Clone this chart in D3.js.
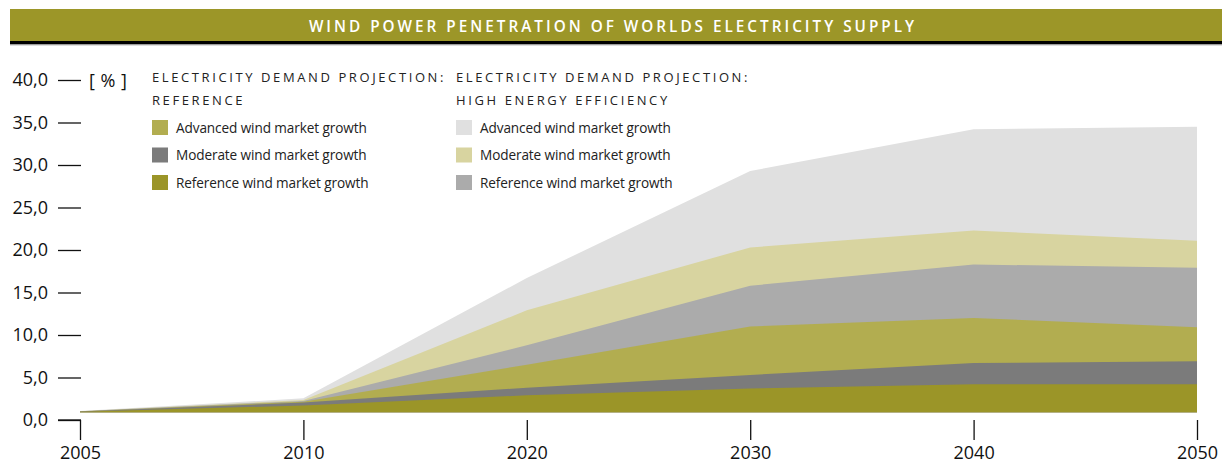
<!DOCTYPE html>
<html>
<head>
<meta charset="utf-8">
<script src="https://cdn.jsdelivr.net/npm/d3@7"></script>
<style>
  body { margin: 0; background: #fff; }
  text { font-family: "Open Sans", sans-serif; }
</style>
</head>
<body>
<div id="chart"></div>
<script>
// chart data
const years = ['2005', '2010', '2020', '2030', '2040', '2050'];
const advancedEE  = [1.05, 2.55, 16.7, 29.3, 34.2, 34.5];
const moderateEE  = [1.03, 2.35, 12.9, 20.3, 22.3, 21.1];
const referenceEE = [1.02, 2.25, 8.8, 15.8, 18.3, 17.9];
const advancedRef = [1.01, 2.15, 6.5, 11.0, 12.0, 10.9];
const moderateRef = [1.0, 2.05, 3.8, 5.3, 6.7, 6.9];
const referenceRef = [0.98, 1.7, 2.9, 3.7, 4.2, 4.2];
const baseValue = 0.92;

const yTicks = [0, 5, 10, 15, 20, 25, 30, 35, 40];

const seriesNames = ['Advanced wind market growth', 'Moderate wind market growth', 'Reference wind market growth'];

const svgWidth = 1229;
const svgHeight = 466;

const svg = d3.select('#chart')
    .append('svg')
    .attr('width', svgWidth)
    .attr('height', svgHeight);

// title bar
svg.append('rect')
    .attr('x', 10).attr('y', 9)
    .attr('width', 1212).attr('height', 32)
    .attr('fill', '#9c9628');
svg.append('rect')
    .attr('x', 10).attr('y', 41)
    .attr('width', 1212).attr('height', 3.5)
    .attr('fill', '#000');
svg.append('rect')
    .attr('x', 10).attr('y', 44.5)
    .attr('width', 1212).attr('height', 1)
    .attr('fill', '#bbb');
svg.append('text')
    .attr('x', 613).attr('y', 31.5)
    .attr('text-anchor', 'middle')
    .attr('fill', '#fff')
    .style('font-size', '15.3px')
    .style('font-weight', 600)
    .style('letter-spacing', '3px')
    .text('WIND POWER PENETRATION OF WORLDS ELECTRICITY SUPPLY');

// scales: the years sit at equal steps on the x axis
const x = d3.scalePoint().domain(years).range([80, 1197]);
const y = d3.scaleLinear().domain([0, 40]).range([420, 80]);

const area = d3.area()
    .x((d, i) => x(years[i]))
    .y0(y(baseValue))
    .y1(d => y(d));

// back to front
const layers = [
    { values: advancedEE, color: '#e0e0e0' },
    { values: moderateEE, color: '#d8d4a0' },
    { values: referenceEE, color: '#ababab' },
    { values: advancedRef, color: '#b2ad50' },
    { values: moderateRef, color: '#7b7b7b' },
    { values: referenceRef, color: '#9b9528' }
];

svg.selectAll('.layer')
    .data(layers)
    .enter()
    .append('path')
    .attr('class', 'layer')
    .attr('d', d => area(d.values))
    .attr('fill', d => d.color);

// y axis: short dashes with labels
const leftAxis = d3.axisLeft(y)
    .tickValues(yTicks)
    .tickSize(23)
    .tickPadding(10)
    .tickFormat(d => d3.format('.1f')(d).replace('.', ','));

const yAxisG = svg.append('g')
    .attr('transform', 'translate(81,0)')
    .call(leftAxis);
yAxisG.select('.domain').remove();
yAxisG.selectAll('line').attr('stroke', '#111').attr('stroke-width', 1.3);
yAxisG.selectAll('text')
    .attr('fill', '#111')
    .style('font-size', '18px')
    .style('font-family', '"Open Sans", sans-serif');

// x axis
const bottomAxis = d3.axisBottom(x)
    .tickSize(20)
    .tickPadding(6);

const xAxisG = svg.append('g')
    .attr('transform', `translate(0,${y(0)})`)
    .call(bottomAxis);
xAxisG.select('.domain').remove();
xAxisG.selectAll('line').attr('stroke', '#111').attr('stroke-width', 1.3);
xAxisG.selectAll('text')
    .attr('fill', '#111')
    .style('font-size', '18px')
    .style('font-family', '"Open Sans", sans-serif');

// corner piece joining the 0,0 dash and the 2005 tick
svg.append('line')
    .attr('x1', 58).attr('x2', 81)
    .attr('y1', y(0)).attr('y2', y(0))
    .attr('stroke', '#111').attr('stroke-width', 1.3);

// unit label
svg.append('text')
    .attr('x', 89).attr('y', 87)
    .attr('fill', '#111')
    .style('font-size', '18px')
    .style('letter-spacing', '0.5px')
    .text('[ % ]');

// legends
function legend(x0, heading1, heading2, colors) {
    const g = svg.append('g').attr('transform', `translate(${x0},0)`);
    g.append('text')
        .attr('x', 0).attr('y', 82)
        .attr('fill', '#222')
        .style('font-size', '13px')
        .style('letter-spacing', '2.6px')
        .text(heading1);
    g.append('text')
        .attr('x', 0).attr('y', 105)
        .attr('fill', '#222')
        .style('font-size', '13px')
        .style('letter-spacing', '2.6px')
        .text(heading2);
    const items = g.selectAll('.item')
        .data(seriesNames)
        .enter()
        .append('g')
        .attr('transform', (d, i) => `translate(0,${120 + i * 27.5})`);
    items.append('rect')
        .attr('width', 16).attr('height', 15)
        .attr('fill', (d, i) => colors[i]);
    items.append('text')
        .attr('x', 24).attr('y', 12.5)
        .attr('fill', '#222')
        .style('font-size', '13.6px')
        .style('letter-spacing', '-0.1px')
        .text(d => d);
}

legend(152, 'ELECTRICITY DEMAND PROJECTION:', 'REFERENCE', ['#b2ad50', '#7b7b7b', '#9b9528']);
legend(456, 'ELECTRICITY DEMAND PROJECTION:', 'HIGH ENERGY EFFICIENCY', ['#e0e0e0', '#d8d4a0', '#ababab']);
</script>
</body>
</html>
